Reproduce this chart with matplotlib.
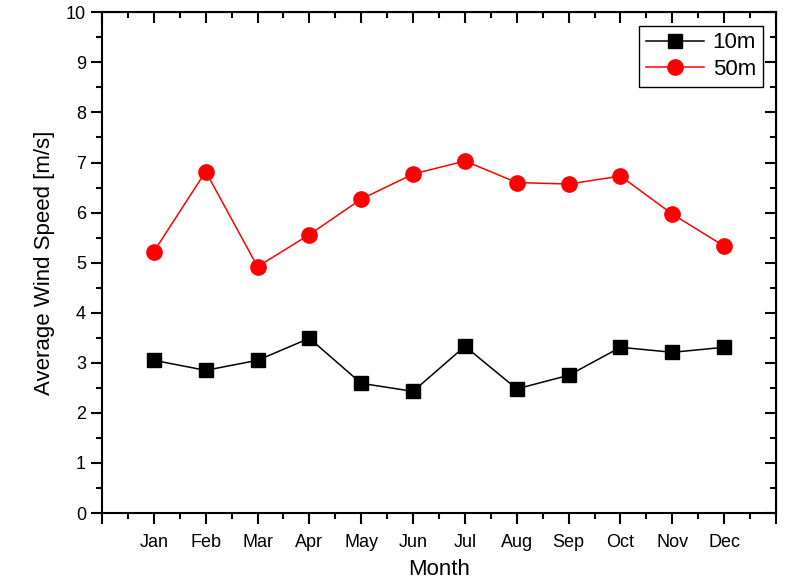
import matplotlib
matplotlib.use("Agg")
import matplotlib.pyplot as plt
from matplotlib.ticker import MultipleLocator

plt.rcParams['font.family'] = ['Liberation Sans', 'DejaVu Sans']

# monthly averages
months = ["Jan", "Feb", "Mar", "Apr", "May", "Jun",
          "Jul", "Aug", "Sep", "Oct", "Nov", "Dec"]
speed_10m = [3.05, 2.85, 3.05, 3.49, 2.59, 2.43, 3.33, 2.48, 2.75, 3.31, 3.21, 3.31]
speed_50m = [5.22, 6.82, 4.92, 5.56, 6.27, 6.77, 7.03, 6.60, 6.57, 6.73, 5.97, 5.33]

x = list(range(1, len(months) + 1))

fig = plt.figure(figsize=(8, 5.85), dpi=100)
ax = fig.add_axes([0.1275, 0.123, 0.8425, 0.856])

ax.plot(x, speed_10m, color="black", lw=1.1, marker="s", ms=9.5, label="10m")
ax.plot(x, speed_50m, color="red", lw=1.1, marker="o", ms=11, label="50m")

ax.set_xlim(0, 13)
ax.set_ylim(0, 10)
ax.set_xticks(list(range(0, 14)))
ax.set_xticklabels([""] + months + [""])
ax.xaxis.set_minor_locator(MultipleLocator(0.5))
ax.yaxis.set_major_locator(MultipleLocator(1))
ax.yaxis.set_minor_locator(MultipleLocator(0.5))

for s in ax.spines.values():
    s.set_linewidth(1.5)

# left/bottom ticks outward, top/right inward
ax.tick_params(which="both", direction="out", width=1.5, labelsize=13)
ax.tick_params(axis="x", which="major", pad=7)
ax.tick_params(which="major", length=8)
ax.tick_params(which="minor", length=4)

axt = ax.secondary_xaxis("top")
axt.set_xticks(list(range(0, 14)))
axt.xaxis.set_minor_locator(MultipleLocator(0.5))
axt.tick_params(which="both", direction="in", width=1.5, labeltop=False)
axt.tick_params(which="major", length=8)
axt.tick_params(which="minor", length=4)

axr = ax.secondary_yaxis("right")
axr.yaxis.set_major_locator(MultipleLocator(1))
axr.yaxis.set_minor_locator(MultipleLocator(0.5))
axr.tick_params(which="both", direction="in", width=1.5, labelright=False)
axr.tick_params(which="major", length=8)
axr.tick_params(which="minor", length=4)

ax.set_xlabel("Month", fontsize=16, labelpad=6)
ax.set_ylabel("Average Wind Speed [m/s]", fontsize=16, labelpad=8)

leg = ax.legend(loc="upper right", fontsize=16, fancybox=False, edgecolor="black",
                framealpha=1, handlelength=2.6, borderaxespad=0.6,
                handletextpad=0.4, labelspacing=0.25, borderpad=0.3)
leg.get_frame().set_linewidth(1.0)

fig.savefig("out.png", dpi=100)
